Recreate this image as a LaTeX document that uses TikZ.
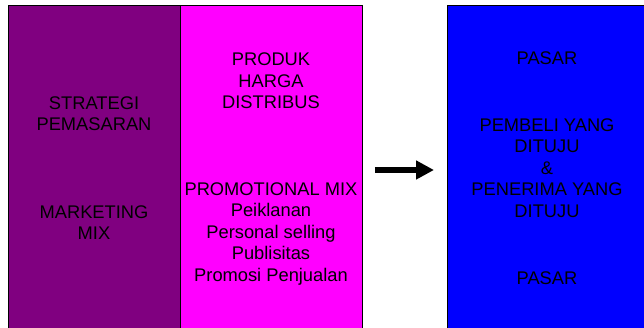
\documentclass[tikz,border=0pt]{standalone}
\usepackage{fontspec}
\setmainfont{Liberation Sans}
\usetikzlibrary{arrows.meta}
\definecolor{dpurple}{RGB}{128,0,128}
\definecolor{mag}{RGB}{255,0,255}
\definecolor{bblue}{RGB}{0,0,255}
\begin{document}
\begin{tikzpicture}[x=1pt,y=1pt,
  panel/.style={draw=black, line width=0.8pt, anchor=north west, minimum height=326pt, inner sep=0pt},
  lbl/.style={align=center, text=black, font=\fontsize{18.3}{21.5}\selectfont, inner sep=0pt},
  bigarrow/.style={line width=6pt, -{Triangle[length=18pt,width=18pt]}}]
\useasboundingbox (0,0) rectangle (644,328);
\node[panel, fill=dpurple, minimum width=172pt] (strat) at (8,323) {};
\node[panel, fill=mag, minimum width=182pt] (mix) at (180,323) {};
\node[panel, fill=bblue, minimum width=200pt] (pasar) at (447,323) {};
\node[lbl] (t1) at (94,214.5) {STRATEGI\\PEMASARAN};
\node[lbl] (t2) at (94,105.5) {MARKETING\\MIX};
\node[lbl] (t3) at (271,247) {PRODUK\\HARGA\\DISTRIBUS};
\node[lbl] (t4) at (271,94) {PROMOTIONAL MIX\\Peiklanan\\Personal selling\\Publisitas\\Promosi Penjualan};
\node[lbl] (t5) at (547,270) {PASAR};
\node[lbl] (t6) at (547,160) {PEMBELI YANG\\DITUJU\\\&\\PENERIMA YANG\\DITUJU};
\node[lbl] (t7) at (547,50) {PASAR};
\draw[bigarrow, shorten <=12pt, shorten >=13pt] (mix.east |- 0,158) -- (pasar.west |- 0,158);
\end{tikzpicture}
\end{document}
